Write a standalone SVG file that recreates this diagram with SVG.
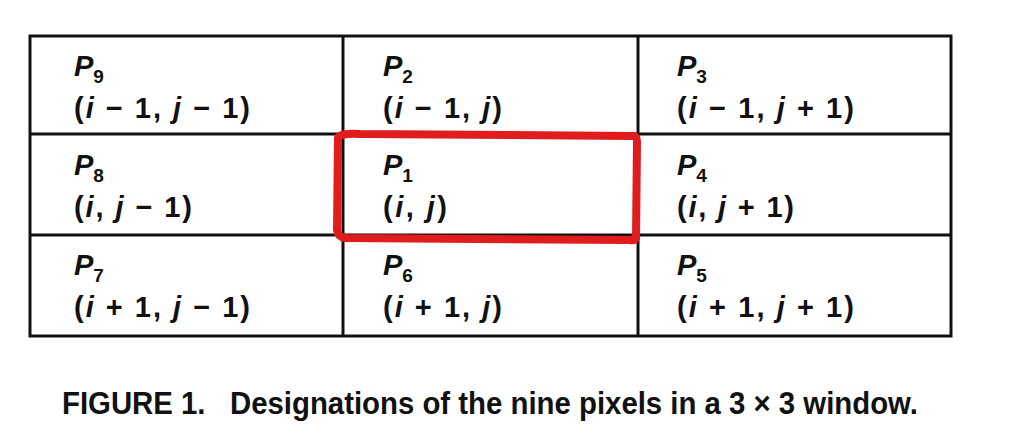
<svg xmlns="http://www.w3.org/2000/svg" width="1024" height="442" viewBox="0 0 1024 442">
<style>
.grid{fill:none;stroke:#111;stroke-width:3}
.t{font-family:"Liberation Sans",Arial,sans-serif;font-weight:bold;font-size:29px;fill:#111}
.it{font-style:italic}
.sub{font-size:19px}
.cap{font-family:"Liberation Sans",Arial,sans-serif;font-weight:bold;font-size:31px;fill:#111}
.hl{fill:none;stroke:#e01c1c;stroke-width:8;stroke-linejoin:round}
</style>
<rect width="1024" height="442" fill="#fff"/>
<g id="grid">
<rect class="grid" x="30" y="36" width="921" height="300"/>
<line class="grid" x1="343" y1="36" x2="343" y2="336"/>
<line class="grid" x1="638" y1="36" x2="638" y2="336"/>
<line class="grid" x1="30" y1="134" x2="951" y2="134"/>
<line class="grid" x1="30" y1="235" x2="951" y2="235"/>
</g>
<g id="p9"><text class="t" x="74" y="76"><tspan class="it">P</tspan><tspan class="sub" dy="7">9</tspan></text>
<text class="t" x="74" y="118" textLength="176">(<tspan class="it">i</tspan> − 1, <tspan class="it">j</tspan> − 1)</text></g>
<g id="p2"><text class="t" x="383" y="76"><tspan class="it">P</tspan><tspan class="sub" dy="7">2</tspan></text>
<text class="t" x="383" y="118" textLength="119">(<tspan class="it">i</tspan> − 1, <tspan class="it">j</tspan>)</text></g>
<g id="p3"><text class="t" x="677" y="76"><tspan class="it">P</tspan><tspan class="sub" dy="7">3</tspan></text>
<text class="t" x="677" y="118" textLength="177">(<tspan class="it">i</tspan> − 1, <tspan class="it">j</tspan> + 1)</text></g>
<g id="p8"><text class="t" x="74" y="175"><tspan class="it">P</tspan><tspan class="sub" dy="7">8</tspan></text>
<text class="t" x="74" y="217" textLength="118">(<tspan class="it">i</tspan>, <tspan class="it">j</tspan> − 1)</text></g>
<g id="p1"><text class="t" x="383" y="175"><tspan class="it">P</tspan><tspan class="sub" dy="7">1</tspan></text>
<text class="t" x="383" y="217" textLength="64">(<tspan class="it">i</tspan>, <tspan class="it">j</tspan>)</text></g>
<g id="p4"><text class="t" x="677" y="175"><tspan class="it">P</tspan><tspan class="sub" dy="7">4</tspan></text>
<text class="t" x="677" y="217" textLength="117">(<tspan class="it">i</tspan>, <tspan class="it">j</tspan> + 1)</text></g>
<g id="p7"><text class="t" x="74" y="275"><tspan class="it">P</tspan><tspan class="sub" dy="7">7</tspan></text>
<text class="t" x="74" y="317" textLength="176">(<tspan class="it">i</tspan> + 1, <tspan class="it">j</tspan> − 1)</text></g>
<g id="p6"><text class="t" x="383" y="275"><tspan class="it">P</tspan><tspan class="sub" dy="7">6</tspan></text>
<text class="t" x="383" y="317" textLength="119">(<tspan class="it">i</tspan> + 1, <tspan class="it">j</tspan>)</text></g>
<g id="p5"><text class="t" x="677" y="275"><tspan class="it">P</tspan><tspan class="sub" dy="7">5</tspan></text>
<text class="t" x="677" y="317" textLength="177">(<tspan class="it">i</tspan> + 1, <tspan class="it">j</tspan> + 1)</text></g>
<g id="highlight"><path class="hl" d="M338,138 Q339,133 360,134 L634,136 Q637,137 637,142 L636,238 Q635,241 630,240 L345,238 Q338,237 337,230 Z"/></g>
<g id="caption"><text class="cap" x="62" y="414" textLength="856" lengthAdjust="spacingAndGlyphs" xml:space="preserve">FIGURE 1.   Designations of the nine pixels in a 3 × 3 window.</text></g>
</svg>
